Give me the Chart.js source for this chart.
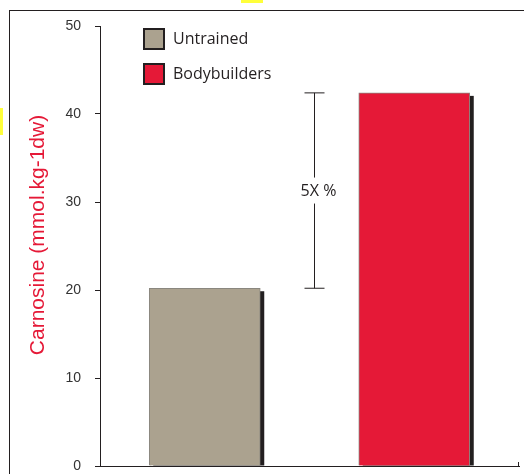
<!DOCTYPE html>
<html>
<head>
<meta charset="utf-8">
<script src="https://cdn.jsdelivr.net/npm/chart.js@4/dist/chart.umd.min.js"></script>
<style>
    html, body { margin: 0; padding: 0; background: #fff; }
    #wrap { position: relative; width: 524px; height: 474px; overflow: hidden; }
    #frame { position: absolute; left: 9px; top: 10px; width: 530px; height: 480px;
             border-top: 1.5px solid #231f20; border-left: 1.5px solid #231f20; }
    .mark { position: absolute; background: #ffff3a; }
    canvas { position: absolute; left: 0; top: 0; }
</style>
</head>
<body>
<div id="wrap">
    <div id="frame"></div>
    <div class="mark" style="left:241px;top:0;width:22px;height:3px"></div>
    <div class="mark" style="left:0;top:108px;width:3px;height:27px"></div>
    <canvas id="chart" width="524" height="474"></canvas>
</div>
<script>
(() => {
    const categories = ["Untrained", "Bodybuilders"];
    const carnosine = [20.2, 42.4];
    const yTicks = [0, 10, 20, 30, 40, 50];
    const axisTitle = "Carnosine (mmol.kg-1dw)";
    const bracketLabel = "5X %";

    const colors = {
        bars: ["#aba28f", "#e51937"],
        ink: "#231f20",
        tick: "#333",
        title: "#e51937"
    };

    // drop shadow to the lower right of each bar
    const barShadow = {
        id: "barShadow",
        beforeDatasetsDraw(chart) {
            const ctx = chart.ctx;
            const meta = chart.getDatasetMeta(0);
            ctx.save();
            ctx.fillStyle = colors.ink;
            meta.data.forEach((bar) => {
                const { x, y, base, width } = bar.getProps(["x", "y", "base", "width"], true);
                ctx.fillRect(x - width / 2 + 4, y + 3, width, base - y - 3);
            });
            ctx.restore();
        }
    };

    const extras = {
        id: "extras",
        afterDraw(chart) {
            const ctx = chart.ctx;
            const { left, top, right, bottom } = chart.chartArea;
            const xs = chart.scales.x;
            const ys = chart.scales.y;
            ctx.save();

            // rotated axis title
            ctx.fillStyle = colors.title;
            ctx.font = "21px 'Liberation Sans', Arial, sans-serif";
            ctx.textAlign = "center";
            ctx.textBaseline = "middle";
            ctx.translate(38, 235);
            ctx.rotate(-Math.PI / 2);
            ctx.fillText(axisTitle, 0, 0);
            ctx.setTransform(1, 0, 0, 1, 0, 0);

            // small end tick on x axis
            ctx.strokeStyle = colors.ink;
            ctx.lineWidth = 1;
            ctx.beginPath();
            ctx.moveTo(right - 0.5, bottom);
            ctx.lineTo(right - 0.5, bottom - 4);
            ctx.stroke();

            // difference bracket between the bars
            const bx = Math.round(xs.getPixelForValue(0.52)) + 0.5;
            const yTop = ys.getPixelForValue(carnosine[1]);
            const yBot = ys.getPixelForValue(carnosine[0]);
            const yMid = (yTop + yBot) / 2;
            ctx.beginPath();
            ctx.moveTo(bx - 10, yTop); ctx.lineTo(bx + 10, yTop);
            ctx.moveTo(bx - 10, yBot); ctx.lineTo(bx + 10, yBot);
            ctx.moveTo(bx, yTop); ctx.lineTo(bx, yMid - 13);
            ctx.moveTo(bx, yMid + 13); ctx.lineTo(bx, yBot);
            ctx.stroke();
            ctx.fillStyle = colors.ink;
            ctx.font = "16px 'Open Sans', sans-serif";
            ctx.textAlign = "center";
            ctx.textBaseline = "middle";
            ctx.fillText(bracketLabel, bx + 4, yMid + 1);

            // legend
            ctx.textAlign = "left";
            categories.forEach((name, i) => {
                const lx = left + 43;
                const ly = top + 2 + i * 35;
                ctx.fillStyle = colors.ink;
                ctx.fillRect(lx, ly, 22, 22);
                ctx.fillStyle = colors.bars[i];
                ctx.fillRect(lx + 2, ly + 2, 18, 18);
                ctx.fillStyle = colors.ink;
                ctx.fillText(name, lx + 30, ly + 11);
            });
            ctx.restore();
        }
    };

    new Chart(document.getElementById("chart"), {
        type: "bar",
        data: {
            labels: categories,
            datasets: [{
                data: carnosine,
                backgroundColor: colors.bars,
                borderColor: "#8a877f",
                borderWidth: 1,
                barThickness: 111
            }]
        },
        options: {
            responsive: false,
            devicePixelRatio: 1,
            animation: false,
            layout: { padding: { top: 26, right: 5, bottom: 8, left: 0 } },
            plugins: { legend: { display: false }, tooltip: { enabled: false } },
            scales: {
                x: {
                    afterFit: (scale) => { scale.height = 0; },
                    grid: { display: false, drawTicks: false },
                    border: { color: colors.ink, width: 1 },
                    ticks: { display: false }
                },
                y: {
                    min: 0,
                    max: 50,
                    afterFit: (scale) => {
                        // tick padding would otherwise push the plot area up
                        scale.width = 100;
                        scale.paddingTop = 0;
                        scale.paddingBottom = 0;
                    },
                    afterBuildTicks: (scale) => { scale.ticks = yTicks.map((v) => ({ value: v })); },
                    grid: { drawOnChartArea: false, tickLength: 5, color: colors.ink },
                    border: { color: colors.ink, width: 1 },
                    ticks: {
                        padding: 14,
                        color: colors.tick,
                        font: { family: "'Liberation Sans', Arial, sans-serif", size: 14 }
                    }
                }
            }
        },
        plugins: [barShadow, extras]
    });
})();
</script>
</body>
</html>
